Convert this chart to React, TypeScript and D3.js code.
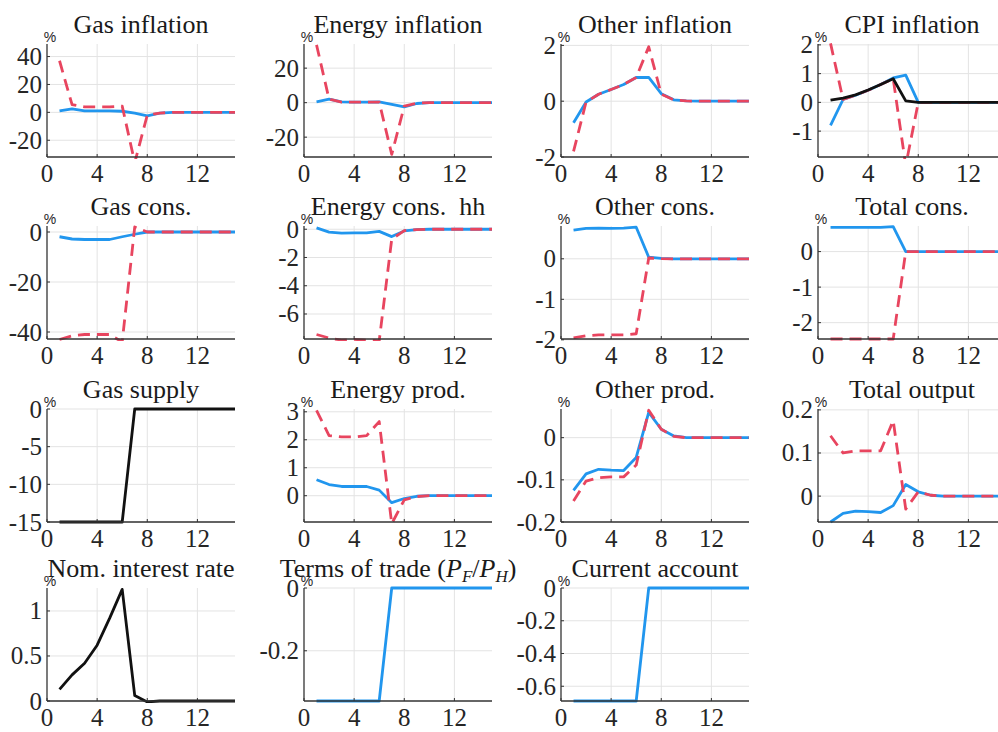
import React from "react";
import * as d3 from "d3";

// ---------- data ----------
const periods = [1, 2, 3, 4, 5, 6, 7, 8, 9, 10, 11, 12, 13, 14, 15];
const xTicks = [0, 4, 8, 12];

const gasInflationBlue = [1, 2.5, 1, 1, 1, 0.8, -0.5, -2.5, -0.5, 0, 0, 0, 0, 0, 0];
const gasInflationRed = [37, 5.5, 4, 4, 4, 4.5, -36, -2, -0.5, 0, 0, 0, 0, 0, 0];

const energyInflationBlue = [0.5, 2, 0.5, 0.3, 0.3, 0.5, -1, -2.5, -0.5, 0, 0, 0, 0, 0, 0];
const energyInflationRed = [33.5, 2, 0.3, 0.3, 0.3, 0.3, -30, -2, -0.3, 0, 0, 0, 0, 0, 0];

const otherInflationBlue = [-0.77, -0.03, 0.25, 0.42, 0.6, 0.85, 0.85, 0.27, 0.05, 0.01, 0, 0, 0, 0, 0];
const otherInflationRed = [-1.8, -0.03, 0.25, 0.42, 0.6, 0.85, 1.95, 0.25, 0.05, 0.01, 0, 0, 0, 0, 0];

const cpiInflationBlue = [-0.8, 0.1, 0.25, 0.42, 0.62, 0.85, 0.95, 0, 0, 0, 0, 0, 0, 0, 0];
const cpiInflationRed = [2.05, 0.1, 0.25, 0.42, 0.62, 0.82, -2.2, 0, 0, 0, 0, 0, 0, 0, 0];
const cpiInflationBlack = [0.08, 0.15, 0.26, 0.43, 0.62, 0.82, 0.05, 0, 0, 0, 0, 0, 0, 0, 0];

const gasConsBlue = [-1.9, -2.8, -3, -3, -3, -1.9, -0.9, 0, 0, 0, 0, 0, 0, 0, 0];
const gasConsRed = [-43, -41.5, -41, -41, -41, -44, 2, 0, 0, 0, 0, 0, 0, 0, 0];

const energyConsBlue = [0.1, -0.2, -0.28, -0.25, -0.25, -0.15, -0.52, -0.12, -0.03, 0, 0, 0, 0, 0, 0];
const energyConsRed = [-7.45, -7.7, -7.85, -7.8, -7.85, -7.9, -0.7, -0.1, -0.03, 0, 0, 0, 0, 0, 0];

const otherConsBlue = [0.71, 0.75, 0.76, 0.75, 0.76, 0.78, 0.04, 0.01, 0, 0, 0, 0, 0, 0, 0];
const otherConsRed = [-1.95, -1.9, -1.88, -1.88, -1.88, -1.85, 0.02, 0.005, 0, 0, 0, 0, 0, 0, 0];

const totalConsBlue = [0.68, 0.68, 0.68, 0.68, 0.68, 0.7, 0, 0, 0, 0, 0, 0, 0, 0, 0];
const totalConsRed = [-2.46, -2.46, -2.46, -2.46, -2.46, -2.46, 0, 0, 0, 0, 0, 0, 0, 0, 0];

const gasSupplyBlack = [-15, -15, -15, -15, -15, -15, 0, 0, 0, 0, 0, 0, 0, 0, 0];

const energyProdBlue = [0.57, 0.4, 0.33, 0.33, 0.33, 0.2, -0.25, -0.1, -0.02, 0, 0, 0, 0, 0, 0];
const energyProdRed = [3.05, 2.15, 2.1, 2.1, 2.15, 2.65, -1.0, -0.15, -0.03, 0, 0, 0, 0, 0, 0];

const otherProdBlue = [-0.125, -0.086, -0.075, -0.077, -0.078, -0.047, 0.06, 0.02, 0.004, 0, 0, 0, 0, 0, 0];
const otherProdRed = [-0.15, -0.103, -0.095, -0.093, -0.093, -0.065, 0.065, 0.02, 0.003, 0, 0, 0, 0, 0, 0];

const totalOutputBlue = [-0.06, -0.04, -0.035, -0.036, -0.038, -0.022, 0.027, 0.01, 0.002, 0, 0, 0, 0, 0, 0];
const totalOutputRed = [0.14, 0.1, 0.105, 0.105, 0.105, 0.175, -0.03, 0.01, 0.002, 0, 0, 0, 0, 0, 0];

const nomRateBlack = [0.13, 0.29, 0.42, 0.62, 0.92, 1.24, 0.06, -0.01, 0, 0, 0, 0, 0, 0, 0];

const termsOfTradeBlue = [-0.36, -0.36, -0.36, -0.36, -0.36, -0.36, 0, 0, 0, 0, 0, 0, 0, 0, 0];

const currentAccountBlue = [-0.69, -0.69, -0.69, -0.69, -0.69, -0.69, 0, 0, 0, 0, 0, 0, 0, 0, 0];

// ---------- styles ----------
const BLUE = "#2196ee";
const RED = "#e8455f";
const BLACK = "#111111";

type Series = { values: number[]; color: string; dashed?: boolean };
type Panel = {
  title: string;
  ylim: [number, number];
  yticks: number[];
  series: Series[];
};

const panels: Panel[] = [
  { title: "Gas inflation", ylim: [-32, 49], yticks: [-20, 0, 20, 40],
    series: [{ values: gasInflationBlue, color: BLUE }, { values: gasInflationRed, color: RED, dashed: true }] },
  { title: "Energy inflation", ylim: [-31.5, 34], yticks: [-20, 0, 20],
    series: [{ values: energyInflationBlue, color: BLUE }, { values: energyInflationRed, color: RED, dashed: true }] },
  { title: "Other inflation", ylim: [-2, 2.05], yticks: [-2, 0, 2],
    series: [{ values: otherInflationBlue, color: BLUE }, { values: otherInflationRed, color: RED, dashed: true }] },
  { title: "CPI inflation", ylim: [-1.9, 2.03], yticks: [-1, 0, 1, 2],
    series: [{ values: cpiInflationBlue, color: BLUE }, { values: cpiInflationRed, color: RED, dashed: true }, { values: cpiInflationBlack, color: BLACK }] },
  { title: "Gas cons.", ylim: [-42.8, 2.4], yticks: [-40, -20, 0],
    series: [{ values: gasConsBlue, color: BLUE }, { values: gasConsRed, color: RED, dashed: true }] },
  { title: "Energy cons.  hh", ylim: [-7.77, 0.23], yticks: [-6, -4, -2, 0],
    series: [{ values: energyConsBlue, color: BLUE }, { values: energyConsRed, color: RED, dashed: true }] },
  { title: "Other cons.", ylim: [-1.98, 0.81], yticks: [-2, -1, 0],
    series: [{ values: otherConsBlue, color: BLUE }, { values: otherConsRed, color: RED, dashed: true }] },
  { title: "Total cons.", ylim: [-2.46, 0.72], yticks: [-2, -1, 0],
    series: [{ values: totalConsBlue, color: BLUE }, { values: totalConsRed, color: RED, dashed: true }] },
  { title: "Gas supply", ylim: [-15, 0], yticks: [-15, -10, -5, 0],
    series: [{ values: gasSupplyBlack, color: BLACK }] },
  { title: "Energy prod.", ylim: [-0.94, 3.1], yticks: [0, 1, 2, 3],
    series: [{ values: energyProdBlue, color: BLUE }, { values: energyProdRed, color: RED, dashed: true }] },
  { title: "Other prod.", ylim: [-0.2, 0.068], yticks: [-0.2, -0.1, 0],
    series: [{ values: otherProdBlue, color: BLUE }, { values: otherProdRed, color: RED, dashed: true }] },
  { title: "Total output", ylim: [-0.06, 0.202], yticks: [0, 0.1, 0.2],
    series: [{ values: totalOutputBlue, color: BLUE }, { values: totalOutputRed, color: RED, dashed: true }] },
  { title: "Nom. interest rate", ylim: [0, 1.255], yticks: [0, 0.5, 1],
    series: [{ values: nomRateBlack, color: BLACK }] },
  { title: "TOT", ylim: [-0.36, 0], yticks: [-0.2, 0],
    series: [{ values: termsOfTradeBlue, color: BLUE }] },
  { title: "Current account", ylim: [-0.69, 0], yticks: [-0.6, -0.4, -0.2, 0],
    series: [{ values: currentAccountBlue, color: BLUE }] },
];

const colLeft = [47, 304, 561, 818];
const rowTop = [44, 226, 409, 588];
const PW = 188;
const PH = 113;
const SERIF = "Liberation Serif";

function PanelView({ p, idx }: { p: Panel; idx: number }) {
  const left = colLeft[idx % 4];
  const top = rowTop[Math.floor(idx / 4)];
  const x = d3.scaleLinear().domain([0, 15]).range([left, left + PW]);
  const y = d3.scaleLinear().domain(p.ylim).range([top + PH, top]);
  const line = d3
    .line<number>()
    .x((_, i) => x(periods[i]))
    .y((d) => y(d));
  const clipId = `clip-${idx}`;
  const cx = left + PW / 2;
  const titleY = top - 11;
  return (
    <g>
      <defs>
        <clipPath id={clipId}>
          <rect x={left} y={top - 2} width={PW + 2} height={PH + 4} />
        </clipPath>
      </defs>
      {p.yticks.map((t) => (
        <line key={"gy" + t} x1={left} x2={left + PW} y1={y(t)} y2={y(t)} stroke="#e3e3e3" strokeWidth={1} />
      ))}
      {xTicks.filter((t) => t > 0).map((t) => (
        <line key={"gx" + t} x1={x(t)} x2={x(t)} y1={top} y2={top + PH} stroke="#e3e3e3" strokeWidth={1} />
      ))}
      <g clipPath={`url(#${clipId})`}>
        {p.series.map((s, i) => (
          <path
            key={i}
            d={line(s.values) || ""}
            fill="none"
            stroke={s.color}
            strokeWidth={2.8}
            strokeDasharray={s.dashed ? "12,7" : undefined}
            strokeLinejoin="round"
          />
        ))}
      </g>
      <line x1={left} x2={left} y1={top} y2={top + PH} stroke="#333" strokeWidth={1.3} />
      <line x1={left} x2={left + PW} y1={top + PH} y2={top + PH} stroke="#333" strokeWidth={1.3} />
      {p.yticks.map((t) => (
        <line key={"ty" + t} x1={left} x2={left + 3} y1={y(t)} y2={y(t)} stroke="#333" strokeWidth={1} />
      ))}
      {xTicks.map((t) => (
        <line key={"tx" + t} x1={x(t)} x2={x(t)} y1={top + PH} y2={top + PH - 3} stroke="#333" strokeWidth={1} />
      ))}
      {p.yticks.map((t) => (
        <text key={"ly" + t} x={left - 5} y={y(t)} dy="0.34em" textAnchor="end" fontFamily={SERIF} fontSize={25} fill="#262626">
          {String(t)}
        </text>
      ))}
      {xTicks.map((t) => (
        <text key={"lx" + t} x={x(t)} y={top + PH + 25} textAnchor="middle" fontFamily={SERIF} fontSize={25} fill="#262626">
          {String(t)}
        </text>
      ))}
      <text x={left + 3} y={top - 2} textAnchor="middle" fontFamily="Liberation Sans" fontSize={14} fill="#262626">
        %
      </text>
      {p.title === "TOT" ? (
        <text x={cx} y={titleY} textAnchor="middle" fontFamily={SERIF} fontSize={26} fill="#1a1a1a">
          Terms of trade (<tspan fontStyle="italic">P</tspan>
          <tspan fontSize={17} fontStyle="italic" dy={5}>F</tspan>
          <tspan dy={-5}>/</tspan>
          <tspan fontStyle="italic">P</tspan>
          <tspan fontSize={17} fontStyle="italic" dy={5}>H</tspan>
          <tspan dy={-5}>)</tspan>
        </text>
      ) : (
        <text x={cx} y={titleY} textAnchor="middle" fontFamily={SERIF} fontSize={26} fill="#1a1a1a" style={{ whiteSpace: "pre" }}>
          {p.title}
        </text>
      )}
    </g>
  );
}

export default function App() {
  return (
    <svg
      width={998}
      height={732}
      style={{ position: "absolute", left: 0, top: 0, background: "#fff" }}
    >
      <rect x={0} y={0} width={998} height={732} fill="#fff" />
      {panels.map((p, i) => (
        <PanelView key={i} p={p} idx={i} />
      ))}
    </svg>
  );
}
